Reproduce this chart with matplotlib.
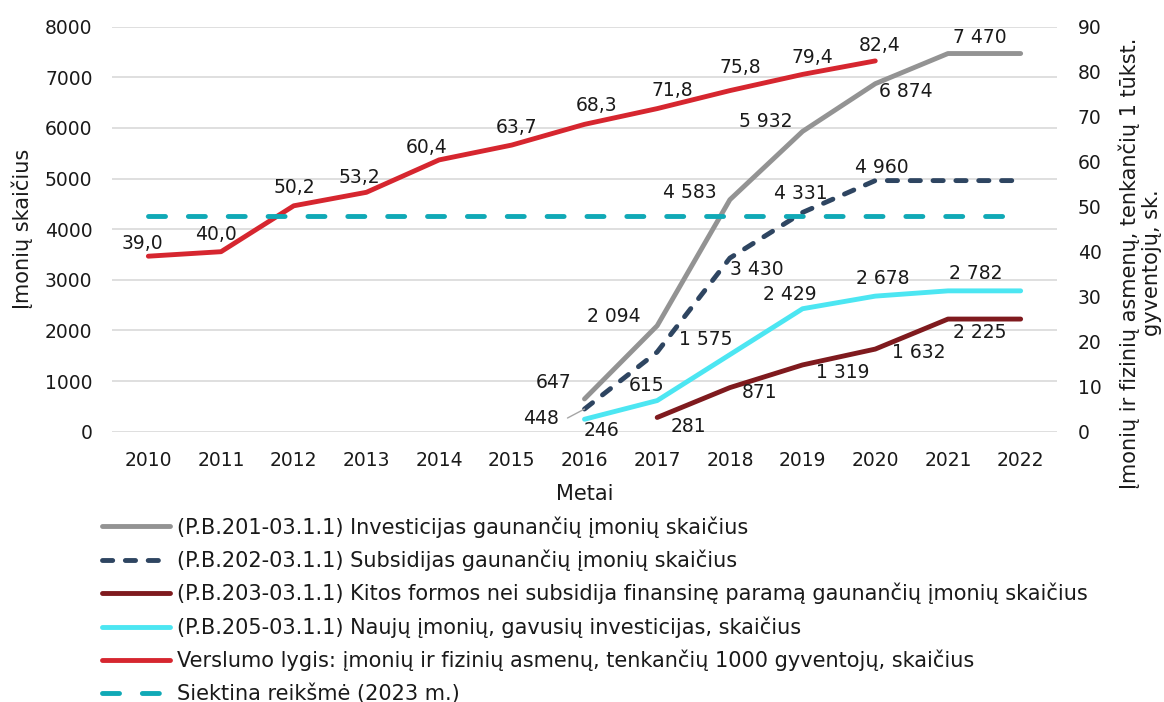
import matplotlib.pyplot as plt
import numpy as np

plt.rcParams["font.family"] = ["DejaVu Sans"]

years = list(range(2010, 2023))

investicijas = [None] * 6 + [647, 2094, 4583, 5932, 6874, 7470, 7470]
subsidijas = [None] * 6 + [448, 1575, 3430, 4331, 4960, 4960, 4960]
kitos_formos = [None] * 7 + [281, 871, 1319, 1632, 2225, 2225]
naujos_imones = [None] * 6 + [246, 615, None, 2429, 2678, 2782, 2782]
verslumo_lygis = [39.0, 40.0, 50.2, 53.2, 60.4, 63.7, 68.3, 71.8, 75.8, 79.4, 82.4, None, None]
siektina = [48] * len(years)

labels = [
    "(P.B.201-03.1.1) Investicijas gaunančių įmonių skaičius",
    "(P.B.202-03.1.1) Subsidijas gaunančių įmonių skaičius",
    "(P.B.203-03.1.1) Kitos formos nei subsidija finansinę paramą gaunančių įmonių skaičius",
    "(P.B.205-03.1.1) Naujų įmonių, gavusių investicijas, skaičius",
    "Verslumo lygis: įmonių ir fizinių asmenų, tenkančių 1000 gyventojų, skaičius",
    "Siektina reikšmė (2023 m.)",
]

# label offsets in pixels (dx, dy), None = no label
off_inv = [None] * 6 + [(-31, 16), (-43, 9), (-40, 7), (-37, 10), (31, -8), (32, 16), None]
off_sub = [None] * 6 + [(-44, -9), (49, 12), (27, -11), (-2, 19), (7, 13), None, None]
off_kit = [None] * 7 + [(31, -9), (30, -5), (40, -8), (43, -3), (32, -13), None]
off_nau = [None] * 6 + [(17, -11), (-11, 15), None, (-13, 14), (7, 18), (28, 17), None]
off_ver = [(-6, 13), (-5, 17), (1, 18), (-7, 15), (-12, 12), (5, 18), (12, 19),
           (15, 18), (10, 23), (10, 17), (4, 15), None, None]

FS = 13.5      # numbers
FS_TXT = 15    # titles and legend
TXT = "#1a1a1a"
LW = 3.5


def fmt_int(v):
    return f"{v:,}".replace(",", " ")


def fmt_dec(v):
    return f"{v:.1f}".replace(".", ",")


def draw_series(ax, values, offsets, fmt, **kw):
    xs = [x for x, v in zip(years, values) if v is not None]
    ys = [v for v in values if v is not None]
    line, = ax.plot(xs, ys, solid_capstyle="round", dash_capstyle="round", **kw)
    for x, v, off in zip(years, values, offsets):
        if v is None or off is None:
            continue
        ax.annotate(fmt(v), (x, v), xytext=(off[0] * 0.72, off[1] * 0.72),
                    textcoords="offset points", ha="center", va="center",
                    fontsize=FS, color=TXT, zorder=10)
    return line


fig = plt.figure(figsize=(11.64, 7.02), dpi=100)
ax = fig.add_axes([112 / 1164, 1 - 431.7 / 702, 945 / 1164, 405 / 702])
ax2 = ax.twinx()

h1 = draw_series(ax, investicijas, off_inv, fmt_int, color="#939393", lw=LW)
h2 = draw_series(ax, subsidijas, off_sub, fmt_int, color="#2E4561", lw=LW, dashes=(2.1, 2.6))
h3 = draw_series(ax, kitos_formos, off_kit, fmt_int, color="#7F1A1E", lw=LW)
h4 = draw_series(ax, naujos_imones, off_nau, fmt_int, color="#4CE6F2", lw=LW)
h5 = draw_series(ax2, verslumo_lygis, off_ver, fmt_dec, color="#D6262F", lw=LW)
h6, = ax2.plot(years, siektina, color="#10A9B6", lw=LW, dashes=(3.5, 4.7), dash_capstyle="round")

# leader line for the 448 label
ax.annotate("", (2016, 448), xytext=(-17 * 0.72, -9 * 0.72), textcoords="offset points",
            arrowprops=dict(arrowstyle="-", color="#A6A6A6", lw=1, shrinkA=0, shrinkB=0))

ax.set_xlim(2009.5, 2022.5)
ax.set_ylim(0, 8000)
ax2.set_ylim(0, 90)
ax.set_xticks(years)
ax.set_yticks(np.arange(0, 8001, 1000))
ax2.set_yticks(np.arange(0, 91, 10))

ax.grid(axis="y", color="#D9D9D9", lw=1.2)
ax.set_axisbelow(True)
for a in (ax, ax2):
    for s in a.spines.values():
        s.set_visible(False)
    a.tick_params(length=0, labelsize=FS, colors=TXT)
ax.tick_params(axis="y", pad=14)
ax.tick_params(axis="x", pad=14)
ax2.tick_params(axis="y", pad=15)

ax.set_xlabel("Metai", fontsize=FS_TXT, color=TXT, labelpad=10)
fig.text(22 / 1164, 1 - 229 / 702, "Įmonių skaičius", rotation=90, ha="center",
         va="center", fontsize=FS_TXT, color=TXT)
fig.text(1140 / 1164, 1 - 263 / 702,
         "Įmonių ir fizinių asmenų, tenkančių 1 tūkst.\ngyventojų, sk.",
         rotation=90, ha="center", va="center", multialignment="center",
         fontsize=FS_TXT, color=TXT, linespacing=1.1)

fig.legend([h1, h2, h3, h4, h5, h6], labels, loc="upper left",
           bbox_to_anchor=(102 / 1164, 1 - 516 / 702), frameon=False,
           fontsize=FS_TXT, handlelength=3.27, handletextpad=0.34, labelspacing=0.575,
           borderpad=0, borderaxespad=0, labelcolor=TXT)

fig.savefig("out.png", dpi=100)
plt.close(fig)
